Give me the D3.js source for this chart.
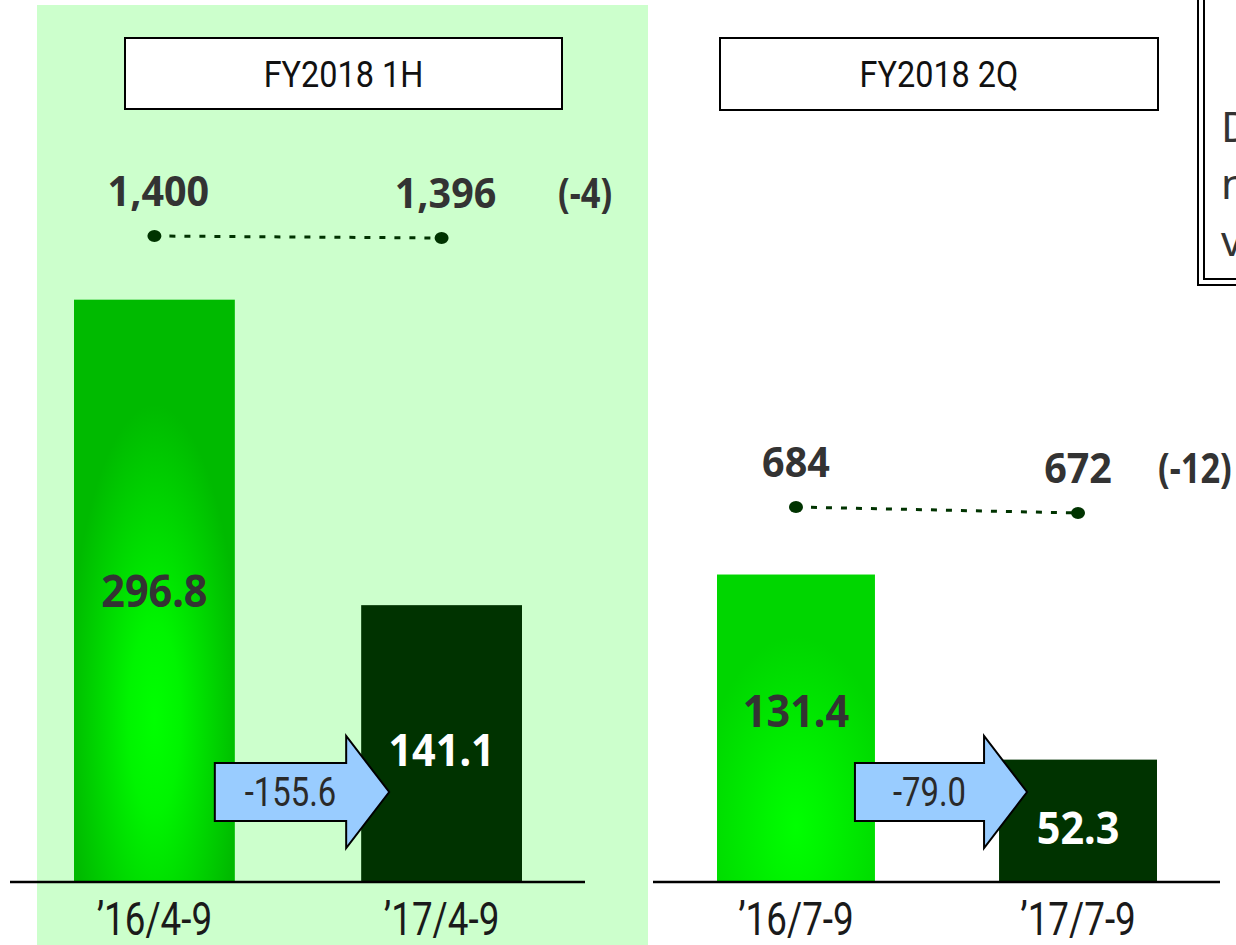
<!DOCTYPE html>
<html>
<head>
<meta charset="utf-8">
<script src="https://cdn.jsdelivr.net/npm/d3@7"></script>
<style>
  html, body { margin: 0; padding: 0; background: #ffffff; }
  svg { display: block; }
</style>
</head>
<body>
<svg id="chart" width="1236" height="945"></svg>
<script>
// Period titles
const panelTitles = ["FY2018 1H", "FY2018 2Q"];

// Categories on each x axis
const periods1H = ["\u201916/4-9", "\u201917/4-9"];
const periods2Q = ["\u201916/7-9", "\u201917/7-9"];

// Bar values (amount, prior year vs current year)
const values1H = [296.8, 141.1];
const values2Q = [131.4, 52.3];

// Year-on-year change shown in the arrows
const deltas1H = -155.6;
const deltas2Q = -79.0;

// Counts shown on the dotted line above the bars
const counts1H = [1400, 1396];
const counts2Q = [684, 672];

const svg = d3.select("#chart");
const W = 1236, H = 945;
const baseY = 882;

const boldFont = "'Noto Sans', 'Open Sans', sans-serif";
const lightFont = "Roboto, 'Noto Sans', sans-serif";

const fmt1 = v => d3.format(".1f")(v).replace("\u2212", "-");

// Narrow a text horizontally, keeping its anchor point
function squeeze(sel, factor) {
  sel.each(function () {
    const len = this.getComputedTextLength();
    d3.select(this)
      .attr("textLength", len * factor)
      .attr("lengthAdjust", "spacingAndGlyphs");
  });
}

svg.append("rect").attr("width", W).attr("height", H).attr("fill", "#ffffff");

// Shaded first-half panel
svg.append("rect")
  .attr("x", 37).attr("y", 5).attr("width", 611).attr("height", 945)
  .attr("fill", "#ccffcc");

const defs = svg.append("defs");
function barGradient(id, edge, cy, r) {
  const g = defs.append("radialGradient")
    .attr("id", id)
    .attr("cx", 0.5).attr("cy", cy).attr("r", r)
    .attr("fx", 0.5).attr("fy", cy);
  g.append("stop").attr("offset", 0).attr("stop-color", "#00ff00");
  g.append("stop").attr("offset", 0.3).attr("stop-color", "#00f400");
  g.append("stop").attr("offset", 1).attr("stop-color", edge);
}
barGradient("grad1H", "#00ba00", 0.72, 0.54);
barGradient("grad2Q", "#00d600", 0.82, 0.62);

const panels = [
  {
    title: panelTitles[0], cats: periods1H, values: values1H, delta: deltas1H, counts: counts1H,
    titleBox: [125, 38, 437, 71],
    xRange: [74, 522], yMax: 300, yTop: 293.4,
    cRange: [286, 186], cDomain: [1300, 1500],
    axis: [10, 585], grad: "grad1H",
    labelDy: [16, 22], countDx: 4, changeX: 558
  },
  {
    title: panelTitles[1], cats: periods2Q, values: values2Q, delta: deltas2Q, counts: counts2Q,
    titleBox: [720, 38, 438, 72],
    xRange: [717, 1157], yMax: 140, yTop: 554.4,
    cRange: [549, 449], cDomain: [600, 800],
    axis: [653, 1220], grad: "grad2Q",
    labelDy: [-1, 23], countDx: 0, changeX: 1158
  }
];

panels.forEach(p => {
  const g = svg.append("g");

  const x = d3.scaleBand().domain(p.cats).range(p.xRange).paddingInner(0.44).paddingOuter(0);
  const y = d3.scaleLinear().domain([0, p.yMax]).range([baseY, p.yTop]);
  const yc = d3.scaleLinear().domain(p.cDomain).range(p.cRange);
  const cx = d => x(d) + x.bandwidth() / 2;

  // Title box
  g.append("rect")
    .attr("x", p.titleBox[0]).attr("y", p.titleBox[1])
    .attr("width", p.titleBox[2]).attr("height", p.titleBox[3])
    .attr("fill", "#ffffff").attr("stroke", "#000").attr("stroke-width", 2);
  g.append("text")
    .attr("x", p.titleBox[0] + p.titleBox[2] / 2)
    .attr("y", p.titleBox[1] + 49)
    .attr("text-anchor", "middle")
    .attr("font-family", lightFont).attr("font-size", 36)
    .attr("fill", "#111").text(p.title)
    .call(squeeze, 0.9);

  // Bars
  g.selectAll("rect.bar").data(p.values).join("rect")
    .attr("class", "bar")
    .attr("x", (d, i) => x(p.cats[i]))
    .attr("y", d => y(d))
    .attr("width", x.bandwidth())
    .attr("height", d => baseY - y(d))
    .attr("fill", (d, i) => i === 0 ? `url(#${p.grad})` : "#003300");

  // Bar value labels
  g.selectAll("text.val").data(p.values).join("text")
    .attr("class", "val")
    .attr("x", (d, i) => cx(p.cats[i]))
    .attr("y", (d, i) => (y(d) + baseY) / 2 + p.labelDy[i])
    .attr("text-anchor", "middle")
    .attr("font-family", boldFont).attr("font-weight", "bold").attr("font-size", 44)
    .attr("fill", (d, i) => i === 0 ? "#333333" : "#ffffff")
    .text(d => fmt1(d))
    .call(squeeze, 0.94);

  // Baseline and category axis
  g.append("line")
    .attr("x1", p.axis[0]).attr("x2", p.axis[1])
    .attr("y1", baseY).attr("y2", baseY)
    .attr("stroke", "#000").attr("stroke-width", 2.5);
  const ax = d3.axisBottom(x).tickSize(0).tickPadding(0);
  const axG = g.append("g").attr("transform", `translate(0,${baseY})`).call(ax);
  axG.select(".domain").remove();
  axG.selectAll("text")
    .attr("y", 53).attr("dy", 0)
    .attr("font-family", lightFont).attr("font-size", 46)
    .attr("fill", "#1a1a1a")
    .call(squeeze, 0.8);

  // Arrow between the bars
  const x0 = x(p.cats[0]) + x.bandwidth() - 20;
  const tip = x(p.cats[1]) + 28;
  const headX = tip - 43;
  const ay = 792, bh = 29, hh = 56;
  const arrow = d3.path();
  arrow.moveTo(x0, ay - bh);
  arrow.lineTo(headX, ay - bh);
  arrow.lineTo(headX, ay - hh);
  arrow.lineTo(tip, ay);
  arrow.lineTo(headX, ay + hh);
  arrow.lineTo(headX, ay + bh);
  arrow.lineTo(x0, ay + bh);
  arrow.closePath();
  g.append("path").attr("d", arrow.toString())
    .attr("fill", "#99ccff").attr("stroke", "#000").attr("stroke-width", 2)
    .attr("stroke-linejoin", "miter");
  g.append("text")
    .attr("x", (x0 + headX) / 2 + 10).attr("y", ay + 14)
    .attr("text-anchor", "middle")
    .attr("font-family", lightFont).attr("font-size", 40)
    .attr("fill", "#2a2a2a")
    .text(fmt1(p.delta))
    .call(squeeze, 0.82);

  // Dotted count line with end dots
  const pts = p.counts.map((c, i) => [cx(p.cats[i]), yc(c)]);
  g.append("path")
    .attr("d", d3.line()(pts))
    .attr("stroke", "#003300").attr("stroke-width", 3)
    .attr("stroke-dasharray", "6 9").attr("fill", "none");
  g.selectAll("ellipse.dot").data(pts).join("ellipse")
    .attr("class", "dot")
    .attr("cx", d => d[0]).attr("cy", d => d[1])
    .attr("rx", 7).attr("ry", 6).attr("fill", "#003300");
  g.selectAll("text.cnt").data(p.counts).join("text")
    .attr("class", "cnt")
    .attr("x", (d, i) => pts[i][0] + p.countDx)
    .attr("y", (d, i) => pts[i][1] - 30)
    .attr("text-anchor", "middle")
    .attr("font-family", boldFont).attr("font-weight", "bold").attr("font-size", 42)
    .attr("fill", "#333333")
    .text(d => d3.format(",")(d))
    .call(squeeze, 0.94);
  const diff = p.counts[1] - p.counts[0];
  g.append("text")
    .attr("x", p.changeX).attr("y", pts[1][1] - 30)
    .attr("font-family", boldFont).attr("font-weight", "bold").attr("font-size", 42)
    .attr("fill", "#333333")
    .text(`(${diff})`)
    .call(squeeze, 0.82);
});

// Note box at the right edge, partly outside the page
const note = svg.append("g");
note.append("rect").attr("x", 1198).attr("y", -10).attr("width", 100).attr("height", 295)
  .attr("fill", "#ffffff").attr("stroke", "#000").attr("stroke-width", 2);
note.append("rect").attr("x", 1204).attr("y", -10).attr("width", 100).attr("height", 289)
  .attr("fill", "none").attr("stroke", "#000").attr("stroke-width", 2);
note.selectAll("text").data(["D", "n", "v"]).join("text")
  .attr("x", 1221).attr("y", (d, i) => 142 + i * 57)
  .attr("font-family", "'Noto Sans', sans-serif").attr("font-size", 42)
  .attr("fill", "#333333").text(d => d);
</script>
</body>
</html>
